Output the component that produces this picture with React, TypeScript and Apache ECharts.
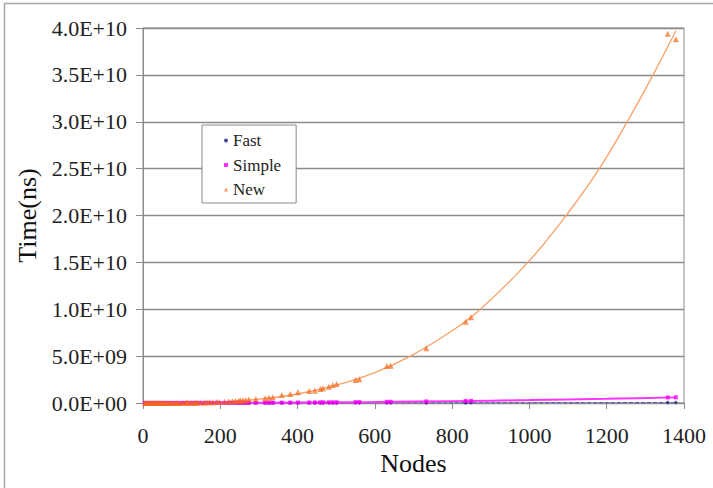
import React, { useEffect, useRef } from "react";
import * as echarts from "echarts";

// Shared node counts for the three algorithms
const nodes = [5, 8, 12, 15, 20, 23, 26, 30, 32, 36, 38, 42, 45, 50, 54, 57, 63, 67, 70, 76, 82, 86, 90, 96, 103, 110, 114, 118, 125, 132, 136, 140, 148, 158, 165, 172, 180, 190, 197, 211, 222, 231, 239, 248, 252, 259, 266, 274, 292, 316, 326, 336, 359, 381, 401, 430, 445, 459, 466, 481, 491, 501, 550, 560, 631, 641, 733, 835, 849, 1358, 1379];

const newTimes = [2e3, 8e3, 2.6e4, 5e4, 1.2e5, 1.8e5, 2.6e5, 4e5, 4.9e5, 7e5, 8.2e5, 1.1e6, 1.4e6, 1.9e6, 2.4e6, 2.8e6, 3.7e6, 4.5e6, 5.1e6, 6.6e6, 8.3e6, 9.5e6, 1.1e7, 1.3e7, 1.6e7, 2.0e7, 2.2e7, 2.5e7, 2.9e7, 3.5e7, 3.8e7, 4.1e7, 4.9e7, 5.9e7, 6.7e7, 7.6e7, 8.7e7, 1.03e8, 1.2e8, 1.4e8, 1.6e8, 1.9e8, 2.1e8, 2.3e8, 2.8e8, 3.0e8, 3.3e8, 3.7e8, 4.3e8, 5.2e8, 5.6e8, 6.1e8, 8.5e8, 9.6e8, 1.14e9, 1.28e9, 1.31e9, 1.49e9, 1.57e9, 1.74e9, 1.92e9, 2.03e9, 2.45e9, 2.53e9, 3.95e9, 3.98e9, 5.85e9, 8.67e9, 9.14e9, 3.94e10, 3.88e10];

const simpleTimes = [8e3, 2e4, 4.5e4, 7e4, 1.3e5, 1.7e5, 2.1e5, 2.8e5, 3.2e5, 4.1e5, 4.6e5, 5.6e5, 6.4e5, 7.9e5, 9.2e5, 1.0e6, 1.3e6, 1.4e6, 1.5e6, 1.8e6, 2.1e6, 2.3e6, 2.6e6, 2.9e6, 3.4e6, 3.8e6, 4.1e6, 4.4e6, 4.9e6, 5.5e6, 5.8e6, 6.2e6, 6.9e6, 7.9e6, 8.6e6, 9.4e6, 1.02e7, 1.14e7, 1.23e7, 1.41e7, 1.56e7, 1.69e7, 1.81e7, 1.94e7, 2.0e7, 2.12e7, 2.24e7, 2.38e7, 2.7e7, 3.2e7, 3.4e7, 3.6e7, 4.1e7, 4.6e7, 5.1e7, 5.8e7, 6.3e7, 6.7e7, 6.9e7, 7.3e7, 7.6e7, 7.9e7, 9.6e7, 9.9e7, 1.26e8, 1.3e8, 1.7e8, 2.2e8, 2.3e8, 5.9e8, 6.1e8];

const fastTimes = [2e3, 4e3, 7e3, 1e4, 1.6e4, 2e4, 2.3e4, 2.8e4, 3.1e4, 3.6e4, 4e4, 4.5e4, 5e4, 6e4, 6.5e4, 7e4, 8e4, 8.8e4, 9.5e4, 1.1e5, 1.2e5, 1.3e5, 1.4e5, 1.5e5, 1.7e5, 1.9e5, 2e5, 2.1e5, 2.3e5, 2.5e5, 2.6e5, 2.8e5, 3.0e5, 3.4e5, 3.6e5, 3.9e5, 4.2e5, 4.6e5, 4.9e5, 5.5e5, 6e5, 6.4e5, 6.8e5, 7.2e5, 7.4e5, 7.8e5, 8.2e5, 8.6e5, 9.6e5, 1.1e6, 1.2e6, 1.3e6, 1.5e6, 1.7e6, 1.9e6, 2.2e6, 2.4e6, 2.6e6, 2.7e6, 2.9e6, 3.1e6, 3.3e6, 4.2e6, 4.4e6, 6e6, 6.3e6, 9e6, 1.3e7, 1.4e7, 6.0e7, 6.4e7];

// Trend lines
const newTrendNodes = [0, 100, 200, 300, 400, 500, 600, 692, 800, 873, 996, 1095, 1181, 1253, 1320, 1379];
const newTrendTimes = [0, 1.5e7, 1.2e8, 4.1e8, 9.6e8, 1.9e9, 3.25e9, 5.0e9, 7.7e9, 1.0e10, 1.5e10, 2.0e10, 2.5e10, 3.0e10, 3.5e10, 3.97e10];
const simpleTrendNodes = [0, 200, 400, 600, 800, 1000, 1200, 1379];
const simpleTrendTimes = [0, 1.3e7, 5e7, 1.15e8, 2.0e8, 3.1e8, 4.55e8, 6.0e8];
const fastTrendNodes = [0, 400, 800, 1200, 1379];
const fastTrendTimes = [0, 5e6, 2e7, 4.5e7, 6e7];

const xTicks = { min: 0, max: 1400, interval: 200 };
const yTicks = { min: 0, max: 4e10, interval: 5e9 };

const zip = (xs: number[], ys: number[]) => xs.map((x, i) => [x, ys[i]]);

function sci(v: number): string {
  if (v === 0) return "0.0E+00";
  const [m, e] = v.toExponential(1).split("e");
  const n = parseInt(e, 10);
  return m + "E" + (n < 0 ? "-" : "+") + String(Math.abs(n)).padStart(2, "0");
}

const FONT = "'Liberation Serif', 'Times New Roman', serif";

export default function App() {
  const ref = useRef<HTMLDivElement>(null);
  useEffect(() => {
    if (!ref.current) return;
    const chart = echarts.init(ref.current, undefined, { renderer: "svg" });
    chart.setOption({
      animation: false,
      backgroundColor: "#ffffff",
      textStyle: { fontFamily: FONT },
      graphic: [
        {
          type: "rect",
          shape: { x: 4.5, y: 3.5, width: 760, height: 560 },
          style: { fill: "none", stroke: "#a8a8a8", lineWidth: 1.5 },
          silent: true,
          z: -10,
        },
      ],
      grid: {
        left: 143,
        top: 28,
        width: 541,
        height: 375,
        show: true,
        borderColor: "#8a8a8a",
        borderWidth: 1,
        backgroundColor: "transparent",
      },
      legend: {
        left: 202,
        top: 125,
        orient: "vertical",
        backgroundColor: "#ffffff",
        borderColor: "#8a8a8a",
        borderWidth: 1,
        borderRadius: 0,
        padding: [7, 15, 5, 22],
        itemWidth: 4,
        itemHeight: 4,
        itemGap: 7.5,
        textStyle: { fontFamily: FONT, fontSize: 17, color: "#222", lineHeight: 17 },
        data: [
          { name: "Fast", icon: "circle" },
          { name: "Simple", icon: "rect" },
          { name: "New", icon: "triangle" },
        ],
      },
      xAxis: {
        type: "value",
        min: xTicks.min,
        max: xTicks.max,
        interval: xTicks.interval,
        name: "Nodes",
        nameLocation: "middle",
        nameGap: 47,
        nameTextStyle: { fontFamily: FONT, fontSize: 26, color: "#111" },
        axisLine: { show: true, lineStyle: { color: "#8a8a8a", width: 1 } },
        axisTick: { show: true, length: 6, lineStyle: { color: "#8a8a8a" } },
        axisLabel: { margin: 21, fontFamily: FONT, fontSize: 22, color: "#222", formatter: (v: number) => String(v) },
        splitLine: { show: false },
      },
      yAxis: {
        type: "value",
        min: yTicks.min,
        max: yTicks.max,
        interval: yTicks.interval,
        name: "Time(ns)",
        nameLocation: "middle",
        nameGap: 102,
        nameTextStyle: { fontFamily: FONT, fontSize: 26, color: "#111" },
        axisLine: { show: true, lineStyle: { color: "#8a8a8a", width: 1 } },
        axisTick: { show: true, length: 7, lineStyle: { color: "#8a8a8a" } },
        axisLabel: { margin: 16, fontFamily: FONT, fontSize: 22, color: "#222", formatter: sci },
        splitLine: { show: true, lineStyle: { color: "#8a8a8a", width: 1.3 } },
      },
      series: [
        {
          name: "NewTrend",
          type: "line",
          data: zip(newTrendNodes, newTrendTimes),
          smooth: 0.4,
          showSymbol: false,
          lineStyle: { color: "#f7a066", width: 1.3 },
          silent: true,
          z: 2,
        },
        {
          name: "FastTrend",
          type: "line",
          data: zip(fastTrendNodes, fastTrendTimes),
          smooth: 0.3,
          showSymbol: false,
          lineStyle: { color: "#5050c0", width: 1, type: [4, 2] },
          silent: true,
          z: 2,
        },
        {
          name: "SimpleTrend",
          type: "line",
          data: zip(simpleTrendNodes, simpleTrendTimes),
          smooth: 0.3,
          showSymbol: false,
          lineStyle: { color: "#ff33ff", width: 2 },
          silent: true,
          z: 2,
        },
        {
          name: "Fast",
          type: "scatter",
          data: zip(nodes, fastTimes),
          symbol: "diamond",
          symbolSize: 4,
          itemStyle: { color: "#1a1a80" },
          z: 3,
        },
        {
          name: "Simple",
          type: "scatter",
          data: zip(nodes, simpleTimes),
          symbol: "rect",
          symbolSize: 4,
          itemStyle: { color: "#ff00ff" },
          z: 4,
        },
        {
          name: "New",
          type: "scatter",
          data: zip(nodes, newTimes),
          symbol: "triangle",
          symbolSize: 6,
          itemStyle: { color: "#f26a1b", opacity: 0.7 },
          z: 5,
        },
      ],
    });
    return () => chart.dispose();
  }, []);
  return (
    <div
      ref={ref}
      style={{ position: "absolute", left: 0, top: 0, width: 713, height: 488 }}
    />
  );
}
